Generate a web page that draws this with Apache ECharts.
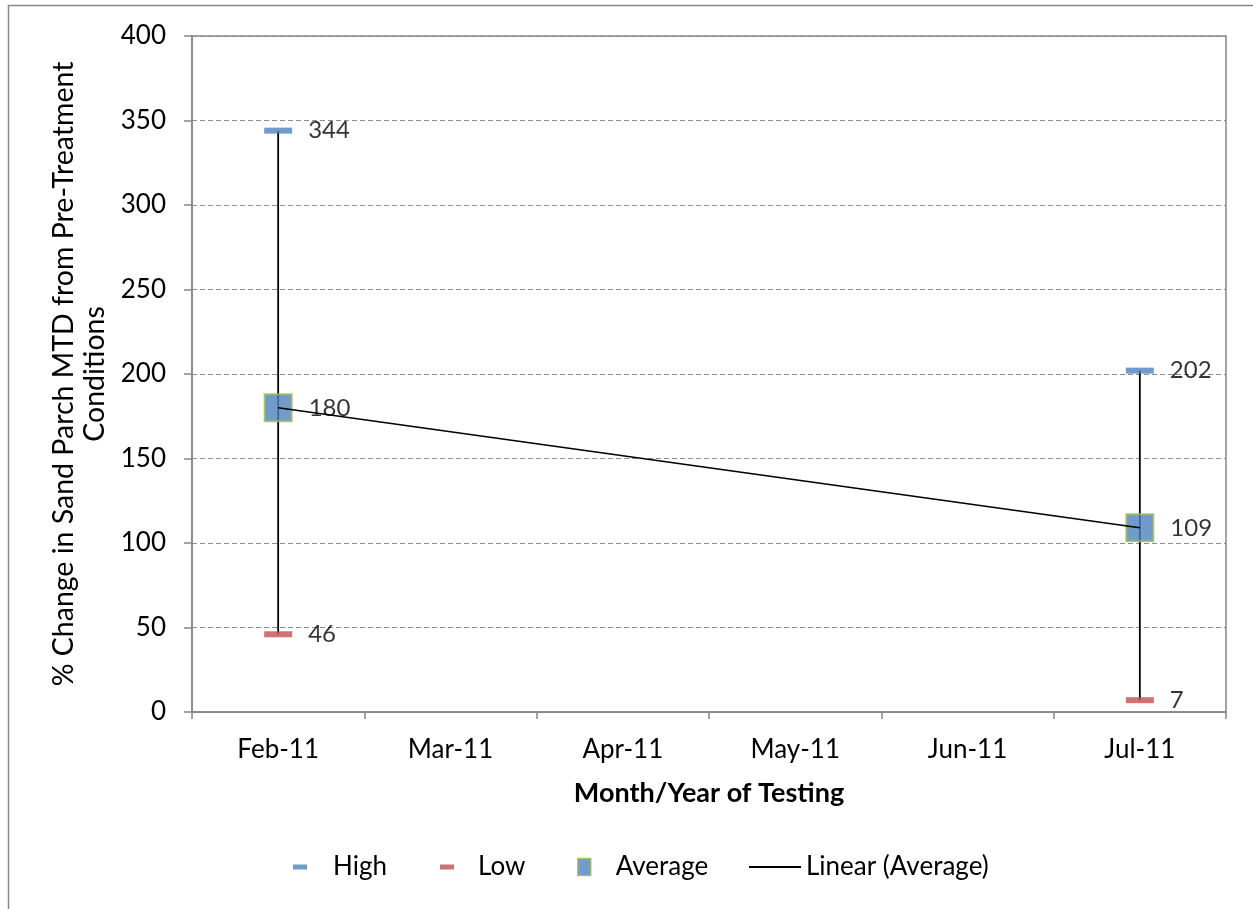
<!DOCTYPE html>
<html><head><meta charset="utf-8">
<script src="https://cdn.jsdelivr.net/npm/echarts@6/dist/echarts.min.js"></script>
<style>html,body{margin:0;padding:0;background:#fff}#c{width:1253px;height:909px}</style>
</head><body><div id="c"></div>
<script>
const categories = ['Feb-11','Mar-11','Apr-11','May-11','Jun-11','Jul-11'];
const highValues = [344, null, null, null, null, 202];
const lowValues = [46, null, null, null, null, 7];
const avgValues = [180, null, null, null, null, 109];
const trendValues = [180, null, null, null, null, 109];
const yTicks = {min: 0, max: 400, interval: 50};

const FONT = 'Lato';
const AX = '#868686';
const chart = echarts.init(document.getElementById('c'));

const barData = categories.map((c, i) => highValues[i] == null ? null : [i, lowValues[i], highValues[i]]).filter(d => d);

const lbl = {show: true, position: 'right', distance: 16, color: '#000', fontSize: 24, fontFamily: FONT,
  formatter: p => p.value == null ? '' : p.value};

function legendItem(name, left, w, h, pad) {
  return {data: [name], left: left, top: 869 - 15, itemWidth: w, itemHeight: h, padding: 0,
    textStyle: {fontSize: 26, fontFamily: FONT, color: '#000', padding: [0, 0, 0, pad]}, selectedMode: false};
}

chart.setOption({
  animation: false,
  textStyle: {fontFamily: FONT},
  graphic: [{type: 'rect', shape: {x: 8.5, y: 5.5, width: 1300, height: 1000}, style: {fill: null, stroke: AX, lineWidth: 1.5}, silent: true, z: -10}],
  grid: {left: 192, right: 27, top: 36, bottom: 197, show: true, borderColor: AX, borderWidth: 1.5},
  legend: [
    Object.assign(legendItem('High', 293, 14, 5, 21), {data: [{name: 'High', icon: 'rect'}]}),
    Object.assign(legendItem('Low', 440, 14, 5, 19), {data: [{name: 'Low', icon: 'rect'}]}),
    Object.assign(legendItem('Average', 577, 13, 17, 20), {data: [{name: 'Average', icon: 'rect', itemStyle: {color: '#4F81BD', borderColor: '#9BBB59', borderWidth: 1.5}}]}),
    Object.assign(legendItem('Linear (Average)', 749, 52, 2, 0), {data: [{name: 'Linear (Average)', icon: 'rect', itemStyle: {color: '#000'}}]})
  ],
  xAxis: {
    type: 'category', data: categories, boundaryGap: true,
    name: 'Month/Year of Testing', nameLocation: 'middle', nameGap: 68,
    nameTextStyle: {fontSize: 27, fontWeight: 'bold', color: '#000', fontFamily: FONT},
    axisLine: {lineStyle: {color: AX, width: 1.5}},
    axisTick: {show: true, interval: 0, length: 7, lineStyle: {color: AX, width: 1.5}},
    axisLabel: {fontSize: 26, color: '#000', margin: 25, fontFamily: FONT, interval: 0},
    splitLine: {show: false}
  },
  yAxis: {
    type: 'value', min: yTicks.min, max: yTicks.max, interval: yTicks.interval,
    name: '% Change in Sand Parch MTD from Pre-Treatment\nConditions', nameLocation: 'middle', nameGap: 80,
    nameTextStyle: {fontSize: 28.5, color: '#000', fontFamily: FONT, lineHeight: 31},
    axisLine: {show: true, lineStyle: {color: AX, width: 1.5}},
    axisTick: {show: true, length: 8, lineStyle: {color: AX, width: 1.5}},
    axisLabel: {fontSize: 26, color: '#000', margin: 26, fontFamily: FONT},
    splitLine: {show: true, lineStyle: {color: '#8c8c8c', type: [5, 3], width: 1}}
  },
  series: [
    {
      name: 'ErrorBar', type: 'custom', z: 1, silent: true,
      data: barData,
      renderItem: (params, api) => {
        const x = api.value(0);
        const p1 = api.coord([x, api.value(1)]);
        const p2 = api.coord([x, api.value(2)]);
        return {type: 'line', shape: {x1: p1[0], y1: p1[1], x2: p2[0], y2: p2[1]}, style: {stroke: '#000', lineWidth: 1.8}};
      }
    },
    {name: 'High', type: 'scatter', z: 3, data: highValues, symbol: 'rect', symbolSize: [28, 6],
      itemStyle: {color: '#4F81BD'}, label: lbl},
    {name: 'Low', type: 'scatter', z: 3, data: lowValues, symbol: 'rect', symbolSize: [28, 6],
      itemStyle: {color: '#C0504D'}, label: lbl},
    {name: 'Average', type: 'scatter', z: 3, data: avgValues, symbol: 'rect', symbolSize: 27,
      itemStyle: {color: '#4F81BD', borderColor: '#9BBB59', borderWidth: 2}, label: lbl},
    {name: 'Linear (Average)', type: 'line', z: 4, data: trendValues, connectNulls: true, symbol: 'none',
      lineStyle: {color: '#000', width: 1.5}, itemStyle: {color: '#000'}}
  ]
});
</script></body></html>
